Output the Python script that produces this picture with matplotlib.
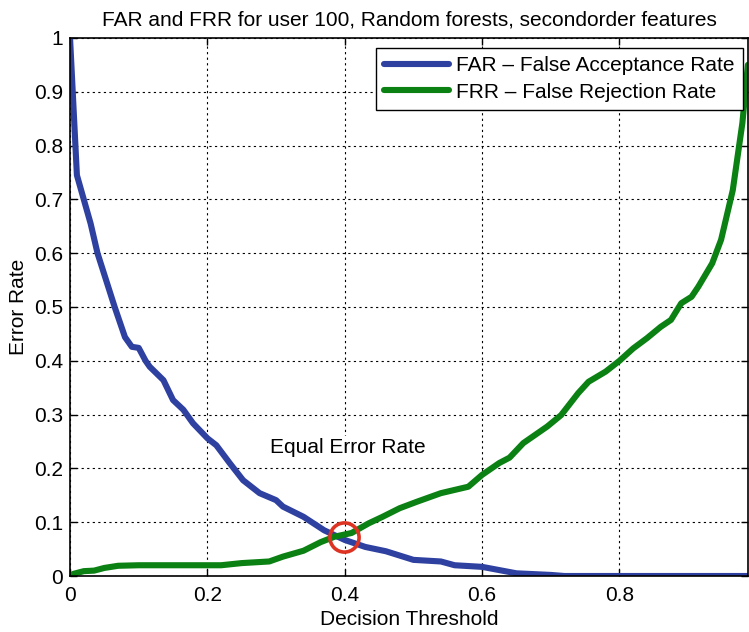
import matplotlib
matplotlib.use("Agg")
import matplotlib.pyplot as plt

plt.rcParams["font.family"] = ["Liberation Sans", "DejaVu Sans"]

# values
far_thr = [0.0, 0.01, 0.02, 0.03, 0.04, 0.05, 0.065, 0.08, 0.09, 0.1, 0.11,
           0.116, 0.136, 0.15, 0.165, 0.179, 0.2, 0.213, 0.233, 0.252, 0.276,
           0.3, 0.31, 0.34, 0.37, 0.4, 0.43, 0.46, 0.5, 0.54, 0.56, 0.6,
           0.625, 0.65, 0.7, 0.72, 0.987]
far = [1.0, 0.745, 0.70, 0.655, 0.60, 0.56, 0.50, 0.444, 0.426, 0.424, 0.400,
       0.389, 0.364, 0.327, 0.309, 0.284, 0.256, 0.243, 0.209, 0.178, 0.154,
       0.141, 0.129, 0.110, 0.085, 0.067, 0.054, 0.046, 0.030, 0.027, 0.020,
       0.017, 0.011, 0.005, 0.002, 0.0, 0.0]

frr_thr = [0.0, 0.005, 0.02, 0.035, 0.05, 0.07, 0.1, 0.2, 0.22, 0.25, 0.29,
           0.31, 0.34, 0.365, 0.385, 0.41, 0.435, 0.455, 0.48, 0.505, 0.54,
           0.58, 0.6, 0.625, 0.64, 0.66, 0.695, 0.715, 0.74, 0.755, 0.78, 0.8,
           0.82, 0.84, 0.86, 0.875, 0.89, 0.905, 0.915, 0.935, 0.948, 0.965,
           0.979, 0.987]
frr = [0.0, 0.004, 0.009, 0.01, 0.015, 0.019, 0.02, 0.02, 0.02, 0.024, 0.027,
       0.036, 0.047, 0.063, 0.073, 0.08, 0.098, 0.11, 0.126, 0.138, 0.154,
       0.166, 0.188, 0.21, 0.22, 0.247, 0.278, 0.299, 0.34, 0.361, 0.38, 0.40,
       0.423, 0.442, 0.463, 0.476, 0.507, 0.519, 0.538, 0.581, 0.625, 0.717,
       0.842, 0.95]

eer_point = (0.399, 0.073)
eer_label_pos = (0.291, 0.238)

blue = "#2e40a0"
green = "#0b8013"
fsize = 15

figure = plt.figure(figsize=(7.49, 6.32), dpi=100)
axes = figure.add_axes([0.0935, 0.0886, 0.905, 0.8513])

axes.plot(far_thr, far, color=blue, linewidth=4.4, label="FAR \u2013 False Acceptance Rate",
          solid_joinstyle="round", solid_capstyle="round")
axes.plot(frr_thr, frr, color=green, linewidth=4.4, label="FRR \u2013 False Rejection Rate",
          solid_joinstyle="round", solid_capstyle="round")
axes.plot([eer_point[0]], [eer_point[1]], marker="o", markersize=21, markerfacecolor="none",
          markeredgecolor="#dd3322", markeredgewidth=2.6, linestyle="none", zorder=5)
axes.text(eer_label_pos[0], eer_label_pos[1], "Equal Error Rate", fontsize=fsize, va="center",
          ha="left", bbox=dict(facecolor="white", edgecolor="none", pad=2), zorder=4)

axes.set_xlim(0, 0.987)
axes.set_ylim(0, 1)
axes.set_xticks([0, 0.2, 0.4, 0.6, 0.8])
axes.set_xticklabels(["0", "0.2", "0.4", "0.6", "0.8"])
axes.set_yticks([i / 10 for i in range(11)])
axes.set_yticklabels(["0", "0.1", "0.2", "0.3", "0.4", "0.5", "0.6", "0.7", "0.8", "0.9", "1"])
axes.tick_params(direction="in", labelsize=fsize, length=5, width=1, top=True, right=True)
axes.tick_params(axis="x", pad=7)
axes.tick_params(axis="y", pad=5)
axes.grid(True, linestyle=(0, (2, 3)), color="black", linewidth=0.8)
axes.set_axisbelow(True)
for spine in axes.spines.values():
    spine.set_linewidth(1.2)

axes.set_xlabel("Decision Threshold", fontsize=fsize, labelpad=4)
axes.set_ylabel("Error Rate", fontsize=fsize, labelpad=4)
axes.set_title("FAR and FRR for user 100, Random forests, secondorder features", fontsize=fsize, pad=9)

legend = axes.legend(loc="upper right", bbox_to_anchor=(0.9926, 0.9814), fontsize=fsize,
                     fancybox=False, framealpha=1, edgecolor="black", handlelength=3.1,
                     borderaxespad=0, labelspacing=0.35, borderpad=0.4, handletextpad=0.35)
legend.get_frame().set_linewidth(1.0)

figure.savefig("out.png", dpi=100)
